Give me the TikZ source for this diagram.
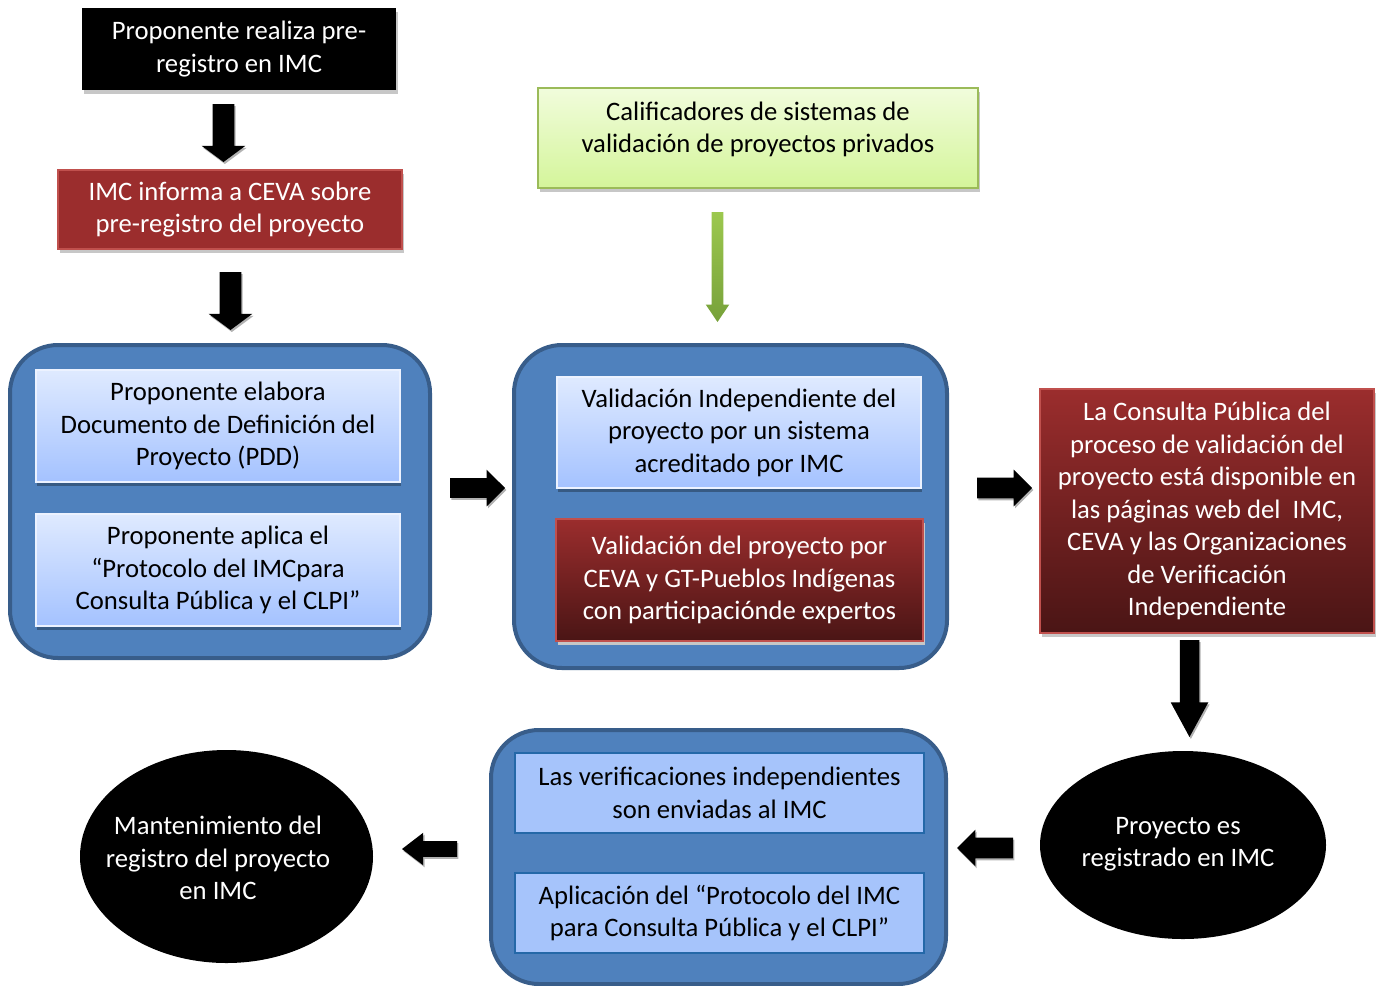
\documentclass[tikz,border=0pt]{standalone}
\usepackage{fontspec}
\setmainfont{Carlito}
\usetikzlibrary{shapes.arrows,shapes.geometric,shadows}
\definecolor{contfill}{HTML}{4F81BD}
\definecolor{contline}{HTML}{385D8A}
\definecolor{lbtop}{HTML}{DFEAFF}
\definecolor{lbbot}{HTML}{A4C2FF}
\definecolor{lbflat}{HTML}{A6C4FB}
\definecolor{lbline}{HTML}{2468A8}
\definecolor{redf}{HTML}{9B2D2D}
\definecolor{redb}{HTML}{4A1515}
\definecolor{redline}{HTML}{C0504D}
\definecolor{grtop}{HTML}{F1FCDC}
\definecolor{grbot}{HTML}{D4F59A}
\definecolor{grline}{HTML}{9BBB59}
\definecolor{gar1}{HTML}{9CC84E}
\definecolor{gar2}{HTML}{77A13A}
\def\pxu{0.75pt}
\begin{document}
\begin{tikzpicture}[x=0.75pt,y=-0.75pt,
  every node/.style={inner sep=0pt, outer sep=0pt, font=\fontsize{20}{24.4}\selectfont, align=center},
  shad/.style={drop shadow={shadow xshift=1.2pt, shadow yshift=-3pt, fill=black!22, opacity=1}},
  blackbox/.style={rectangle, fill=black, text=white, shad},
  redbox/.style={rectangle, fill=redf, draw=redline, line width=1.2pt, text=white, shad},
  redgrad/.style={rectangle, top color=redf, bottom color=redb, draw=redline, line width=1.2pt, text=white, shad},
  greenbox/.style={rectangle, top color=grtop, bottom color=grbot, draw=grline, line width=1.5pt, shad},
  cont/.style={rectangle, rounded corners=36pt, fill=contfill, draw=contline, line width=3pt},
  lbgrad/.style={rectangle, top color=lbtop, bottom color=lbbot, draw=lbtop!60!white, line width=0.8pt,
     drop shadow={shadow xshift=0.8pt, shadow yshift=-3pt, fill=black, opacity=0.3}},
  lbflatbox/.style={rectangle, fill=lbflat, draw=lbline, line width=1.5pt},
  blackell/.style={ellipse, fill=black},
  arrowbase/.style={single arrow, anchor=tail, align=none, font=,
     text height=0pt, text depth=0pt, text width=0pt},
  barrow/.style={arrowbase, fill=black,
     drop shadow={shadow xshift=1pt, shadow yshift=-1.5pt, fill=black!30, opacity=1}},
]
\useasboundingbox (0,0) rectangle (1380,985);

% top-left chain
\node[blackbox, minimum width=314*\pxu, minimum height=82*\pxu] (n1) at (239,49)
  {Proponente realiza pre-\\registro en IMC};
\node[redbox, minimum width=344*\pxu, minimum height=79*\pxu] (n2) at (230,209.5)
  {IMC informa a CEVA sobre\\pre-registro del proyecto};

% left container
\node[cont, minimum width=420*\pxu, minimum height=313*\pxu] (L) at (220,501.5) {};
\node[lbgrad, minimum width=364*\pxu, minimum height=112*\pxu] (L1) at (218,426)
  {Proponente elabora\\Documento de Definición del\\Proyecto (PDD)};
\node[lbgrad, minimum width=364*\pxu, minimum height=112*\pxu] (L2) at (218,570)
  {Proponente aplica el\\“Protocolo del IMCpara\\Consulta Pública y el CLPI”};

% green box
\node[greenbox, minimum width=440*\pxu, minimum height=100*\pxu,
  label={[yshift=6.4pt]center:Calificadores de sistemas de\\validación de proyectos privados}] (G) at (758,138) {};

% middle container
\node[cont, minimum width=433*\pxu, minimum height=323*\pxu] (M) at (730.5,506.5) {};
\node[lbgrad, minimum width=364*\pxu, minimum height=111*\pxu] (M1) at (739,432.5)
  {Validación Independiente del\\proyecto por un sistema\\acreditado por IMC};
\node[redgrad, minimum width=367*\pxu, minimum height=122*\pxu] (M2) at (739.5,580)
  {Validación del proyecto por\\CEVA y GT-Pueblos Indígenas\\con participaciónde expertos};

% right red box
\node[redgrad, minimum width=334*\pxu, minimum height=244*\pxu] (R) at (1207,511)
  {La Consulta Pública del\\proceso de validación del\\proyecto está disponible en\\las páginas web del \ IMC,\\CEVA y las Organizaciones\\de Verificación\\Independiente};

% ellipse registrado
\node[blackell, minimum width=286*\pxu, minimum height=188*\pxu,
  label={[text=white, xshift=-3.75pt, yshift=0.5pt]center:Proyecto es\\registrado en IMC}] (P) at (1183,845) {};

% bottom container
\node[cont, minimum width=455*\pxu, minimum height=254*\pxu] (B) at (718.5,857) {};
\node[lbflatbox, minimum width=409*\pxu, minimum height=80*\pxu] (B1) at (719.5,793)
  {Las verificaciones independientes\\son enviadas al IMC};
\node[lbflatbox, minimum width=409*\pxu, minimum height=80*\pxu] (B2) at (719.5,913)
  {Aplicación del “Protocolo del IMC\\para Consulta Pública y el CLPI”};

% ellipse mantenimiento
\node[blackell, minimum width=293*\pxu, minimum height=213*\pxu,
  label={[text=white, xshift=-6.4pt, yshift=-1pt]center:Mantenimiento del\\registro del proyecto\\en IMC}] (E) at (226.5,856.5) {};

% block arrows
\node[barrow, shape border rotate=270, minimum height=58*\pxu,
  inner sep=10.5*\pxu, single arrow head extend=11*\pxu, single arrow tip angle=107] (a1) at (223.5,104) {};
\node[barrow, shape border rotate=270, minimum height=58*\pxu,
  inner sep=10.5*\pxu, single arrow head extend=11*\pxu, single arrow tip angle=107] (a2) at (230.5,272) {};
\node[barrow, minimum height=55*\pxu,
  inner sep=9.5*\pxu, single arrow head extend=8.5*\pxu, single arrow tip angle=90] (a3) at (450,488) {};
\node[barrow, minimum height=55*\pxu,
  inner sep=10*\pxu, single arrow head extend=8*\pxu, single arrow tip angle=90] (a4) at (977,488) {};
\node[barrow, shape border rotate=270, minimum height=97*\pxu,
  inner sep=9.5*\pxu, single arrow head extend=9*\pxu, single arrow tip angle=57] (a5) at (1189.5,640) {};
\node[barrow, shape border rotate=180, minimum height=56*\pxu,
  inner sep=10*\pxu, single arrow head extend=8*\pxu, single arrow tip angle=90] (a6) at (1013,848) {};
\node[barrow, shape border rotate=180, minimum height=55*\pxu,
  inner sep=7.5*\pxu, single arrow head extend=8.5*\pxu, single arrow tip angle=75] (a7) at (457,849) {};
\node[arrowbase, shape border rotate=270,
  top color=gar1, bottom color=gar2,
  minimum height=110*\pxu, inner sep=5.5*\pxu, single arrow head extend=6*\pxu,
  single arrow tip angle=68] (ga) at (717.5,212) {};
\end{tikzpicture}
\end{document}
